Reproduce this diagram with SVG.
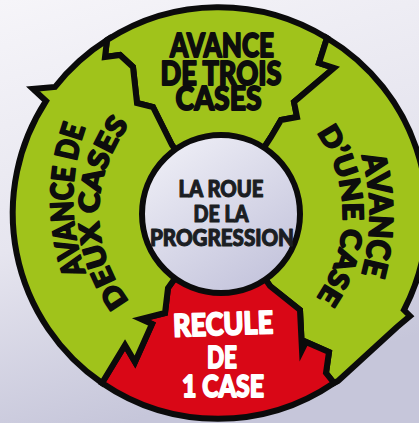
<svg xmlns="http://www.w3.org/2000/svg" width="419" height="423" viewBox="0 0 419 423">
<defs>
<linearGradient id="bg" x1="0" y1="0" x2="0.3" y2="1">
<stop offset="0" stop-color="#f6f5f9"/>
<stop offset="0.55" stop-color="#e6e5ef"/>
<stop offset="1" stop-color="#c6c6da"/>
</linearGradient>
<linearGradient id="hub" x1="0.2" y1="0.1" x2="0.8" y2="0.95">
<stop offset="0" stop-color="#ebebf4"/>
<stop offset="1" stop-color="#c4c4dc"/>
</linearGradient>
<path id="tL1" d="M97.5,300 A216,216 0 0 1 97.5,100"/>
<path id="tL2" d="M146.6,320 A144,144 0 0 1 146.6,106"/>
<path id="tR1" d="M343,110 A220,220 0 0 1 343,320"/>
<path id="tR2" d="M297,110 A143,143 0 0 1 297,320"/>
</defs>
<style>
.seg{stroke:#0b0b0b;stroke-width:6;stroke-linejoin:miter;stroke-miterlimit:10}
.g{fill:#a0c31b}
.r{fill:#d90716}
.t{font-family:Lato,"Open Sans","DejaVu Sans",sans-serif;font-weight:900;text-anchor:middle;stroke-width:1.8;stroke-linejoin:round}
.k{fill:#0d0d0d;stroke:#0d0d0d}
.w{fill:#ffffff;stroke:#ffffff}
.c{fill:#1b1e23;stroke:#1b1e23;stroke-width:1.1}
</style>
<rect width="419" height="423" fill="url(#bg)"/>

<g id="connectors">
</g>

<g id="seg-top">
<path class="seg g" d="M107,40 A206,206 0 0 1 327,38 L319,63 L334,68 L294,102 L297,117 L281,120 L271,137 L221,214 L172,145 L163,127 L153,107 L137,103 L133,67 L120,55 L105,57 Z"/>
<text class="t k" font-size="32"><tspan x="222" y="57" textLength="104" lengthAdjust="spacingAndGlyphs">AVANCE</tspan></text>
<text class="t k" font-size="32"><tspan x="221" y="85" textLength="121" lengthAdjust="spacingAndGlyphs">DE TROIS</tspan></text>
<text class="t k" font-size="32"><tspan x="218.5" y="110" textLength="86" lengthAdjust="spacingAndGlyphs">CASES</tspan></text>
</g>

<g id="seg-right">
<path class="seg g" d="M327,38 A206,206 0 0 1 404,310 L410,316 L397,327 L338,381 L334,383 L326,373 L329,352 L306,342 L302,350 L300,310 L270,286 L221,214 L271,137 L281,120 L297,117 L294,102 L334,68 L319,63 Z"/>
<text class="t k" font-size="32"><textPath href="#tR1" startOffset="50%" textLength="120" lengthAdjust="spacingAndGlyphs">AVANCE</textPath></text>
<text class="t k" font-size="28"><textPath href="#tR2" startOffset="50%" textLength="176" lengthAdjust="spacingAndGlyphs">D’UNE CASE</textPath></text>
</g>

<g id="seg-bottom">
<path class="seg r" d="M334,383 A206,206 0 0 1 102,383 L125,345 L135,362 L152,324 L141,319 L165,313 L168,288 L221,214 L270,286 L300,310 L302,350 L306,342 L329,352 L326,373 Z"/>
<text class="t w" font-size="31" transform="rotate(-2 223 324)"><tspan x="223" y="335" textLength="100" lengthAdjust="spacingAndGlyphs">RECULE</tspan></text>
<text class="t w" font-size="31"><tspan x="222" y="368" textLength="30" lengthAdjust="spacingAndGlyphs">DE</tspan></text>
<text class="t w" font-size="31"><tspan x="223" y="397" textLength="82" lengthAdjust="spacingAndGlyphs">1 CASE</tspan></text>
</g>

<g id="seg-left">
<path class="seg g" d="M102,383 A206,206 0 0 1 46,101 L33,89 L55,87 A206,206 0 0 1 107,40 L105,57 L120,55 L133,67 L137,103 L153,107 L163,127 L172,145 L221,214 L168,288 L165,313 L141,319 L152,324 L135,362 L125,345 Z"/>
<text class="t k" font-size="31"><textPath href="#tL1" startOffset="50%" textLength="148" lengthAdjust="spacingAndGlyphs">AVANCE DE</textPath></text>
<text class="t k" font-size="28"><textPath href="#tL2" startOffset="50%" textLength="190" lengthAdjust="spacingAndGlyphs">DEUX CASES</textPath></text>
</g>

<g id="hub-node">
<circle cx="221" cy="214" r="79" fill="url(#hub)" stroke="#0b0b0b" stroke-width="6"/>
<text class="t c" font-size="22"><tspan x="221" y="197" textLength="85" lengthAdjust="spacingAndGlyphs">LA ROUE</tspan></text>
<text class="t c" font-size="22"><tspan x="221" y="222" textLength="55" lengthAdjust="spacingAndGlyphs">DE LA</tspan></text>
<text class="t c" font-size="22"><tspan x="222" y="246" textLength="144" lengthAdjust="spacingAndGlyphs">PROGRESSION</tspan></text>
</g>
</svg>
